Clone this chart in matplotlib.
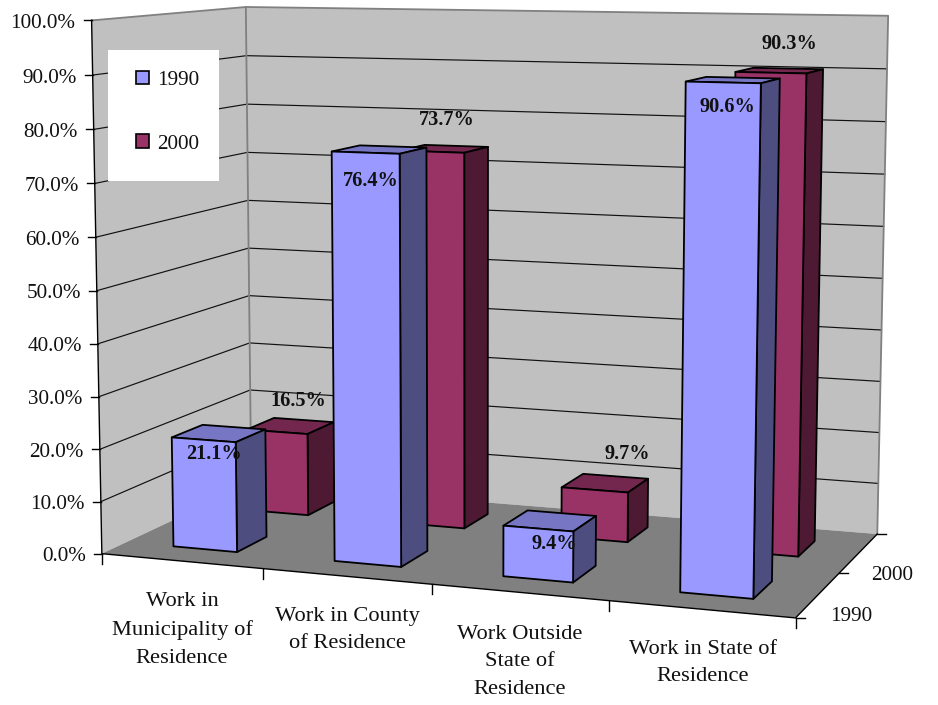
import numpy as np
import matplotlib
matplotlib.use("Agg")
import matplotlib.pyplot as plt
from matplotlib.patches import Polygon, Rectangle, Patch

categories = ["Work in\nMunicipality of\nResidence", "Work in County\nof Residence",
              "Work Outside\nState of\nResidence", "Work in State of\nResidence"]
series_names = ["1990", "2000"]
values_1990 = [21.1, 76.4, 9.4, 90.6]
values_2000 = [16.5, 73.7, 9.7, 90.3]
y_ticks = [0, 10, 20, 30, 40, 50, 60, 70, 80, 90, 100]

# layout calibration: unit-box corners -> pixel positions
box_pts = [(0, 0, 0), (1, 0, 0), (1, 1, 0), (0, 1, 0), (0, 0, 1), (0, 1, 1), (1, 1, 1)]
img_pts = [(102, 553), (796, 618), (877, 534), (251, 484), (91, 21), (246.5, 6.5), (888, 15.7)]
rows = []
for (X, Y, Z), (u, v) in zip(box_pts, img_pts):
    rows.append([X, Y, Z, 1, 0, 0, 0, 0, -u*X, -u*Y, -u*Z, -u])
    rows.append([0, 0, 0, 0, X, Y, Z, 1, -v*X, -v*Y, -v*Z, -v])
P = np.linalg.svd(np.array(rows, float))[2][-1].reshape(3, 4)


def proj(x, y, z):
    """x: category units, y: series units, z: percent"""
    h = P @ np.array([x / len(categories), y / len(series_names), z / 100.0, 1.0])
    return h[0] / h[2], h[1] / h[2]


plt.rcParams['font.family'] = ['Liberation Serif', 'DejaVu Serif']
fig = plt.figure(figsize=(9.38, 7.05), dpi=100)
ax = fig.add_axes([0, 0, 1, 1])
ax.set_xlim(0, 938)
ax.set_ylim(705, 0)
ax.axis('off')

WALL, FLOOR, EDGE = '#C0C0C0', '#808080', '#808080'
ncat, nser = len(categories), len(series_names)
ax.add_patch(Polygon([proj(0, 0, 0), proj(0, nser, 0), proj(0, nser, 100), proj(0, 0, 100)],
                     fc=WALL, ec='none', zorder=1))
ax.add_patch(Polygon([proj(0, nser, 0), proj(ncat, nser, 0), proj(ncat, nser, 100), proj(0, nser, 100)],
                     fc=WALL, ec='none', zorder=1))
for t in y_ticks[1:-1]:
    pts = [proj(0, 0, t), proj(0, nser, t), proj(ncat, nser, t)]
    ax.plot(*zip(*pts), color='#111111', lw=0.85, zorder=2)
ax.add_patch(Polygon([proj(0, 0, 0), proj(ncat, 0, 0), proj(ncat, nser, 0), proj(0, nser, 0)],
                     fc=FLOOR, ec='none', zorder=3))
ax.plot(*zip(proj(0, 0, 100), proj(0, nser, 100), proj(ncat, nser, 100), proj(ncat, nser, 0)),
        color=EDGE, lw=1.3, zorder=2.5)
ax.plot(*zip(proj(0, nser, 0), proj(0, nser, 100)), color=EDGE, lw=1.3, zorder=2.5)
ax.plot(*zip(proj(0, 0, 100), proj(0, 0, 0), proj(ncat, 0, 0), proj(ncat, nser, 0)),
        color='black', lw=1.0, zorder=4)

# ticks and tick labels
for t in y_ticks:
    u, v = proj(0, 0, t)
    ax.plot([u - 8, u], [v, v], color='black', lw=1.0, zorder=4)
    ax.text(u - 16, v + 3, f"{t:.1f}%", ha='right', va='center', fontsize=15.2, color='#111111')
for i in range(ncat + 1):
    u, v = proj(i, 0, 0)
    ax.plot([u, u], [v, v + 10], color='black', lw=1.0, zorder=4)
for j in range(nser + 1):
    u, v = proj(ncat, j, 0)
    ax.plot([u, u + 9], [v, v], color='black', lw=1.0, zorder=4)
cat_label_xy = [(182, 630), (347, 630), (520, 662), (703, 663)]
for name, (u, v) in zip(categories, cat_label_xy):
    ax.text(u, v, name, ha='center', va='center', fontsize=16.2, linespacing=1.6, color='#111111')
for j, name in enumerate(series_names):
    u, v = proj(ncat, j + 0.5, 0)
    ax.text(u + 33 - 0, v + 22, name, ha='center', va='center', fontsize=15.2, color='#111111')

# bars
series = [values_1990, values_2000]
colours = [('#9999FF', '#7676C4', '#4D4D80'), ('#993366', '#74274E', '#4D1933')]
bar_w = 0.4
bar_d = 0.4


def cuboid(i, j, val, cols, z):
    x0, x1 = i + 0.5 - bar_w / 2, i + 0.5 + bar_w / 2
    y0, y1 = j + 0.5 - bar_d / 2, j + 0.5 + bar_d / 2
    faces = [([proj(x0, y0, val), proj(x1, y0, val), proj(x1, y1, val), proj(x0, y1, val)], cols[1]),
             ([proj(x1, y0, 0), proj(x1, y1, 0), proj(x1, y1, val), proj(x1, y0, val)], cols[2]),
             ([proj(x0, y0, 0), proj(x1, y0, 0), proj(x1, y0, val), proj(x0, y0, val)], cols[0])]
    for pts, c in faces:
        ax.add_patch(Polygon(pts, fc=c, ec='black', lw=1.3, joinstyle='round', zorder=z))


for j in (1, 0):
    for i in range(ncat):
        cuboid(i, j, series[j][i], colours[j], 5 + (1 - j) * 10 + i)

# data labels
label_offsets = [[(-5, 21), (-9, 31), (4, 23), (-6, 27)],
                 [(8, -25), (3, -29), (22, -29), (10, -27)]]
for j in range(nser):
    for i in range(ncat):
        u, v = proj(i + 0.5, j + 0.5, series[j][i])
        du, dv = label_offsets[j][i]
        ax.text(u + du, v + dv, f"{series[j][i]:.1f}%", ha='center', va='center',
                fontsize=14.6, fontweight='bold', color='#111111', zorder=40)

# legend
ax.add_patch(Rectangle((108, 50), 111, 131, fc='white', ec='none', zorder=3))
handles = [Patch(fc=colours[k][0], ec='black', lw=1.2, label=series_names[k]) for k in range(nser)]
ax.legend(handles=handles, frameon=False, loc='upper left', bbox_to_anchor=(136 / 938, 1 - 71 / 705),
          bbox_transform=fig.transFigure, borderpad=0, borderaxespad=0, fontsize=15.2,
          handlelength=0.6, handleheight=0.6, handletextpad=0.42, labelspacing=2.1,
          labelcolor='#111111').set_zorder(4)

fig.savefig('out.png', dpi=100, facecolor='white')
